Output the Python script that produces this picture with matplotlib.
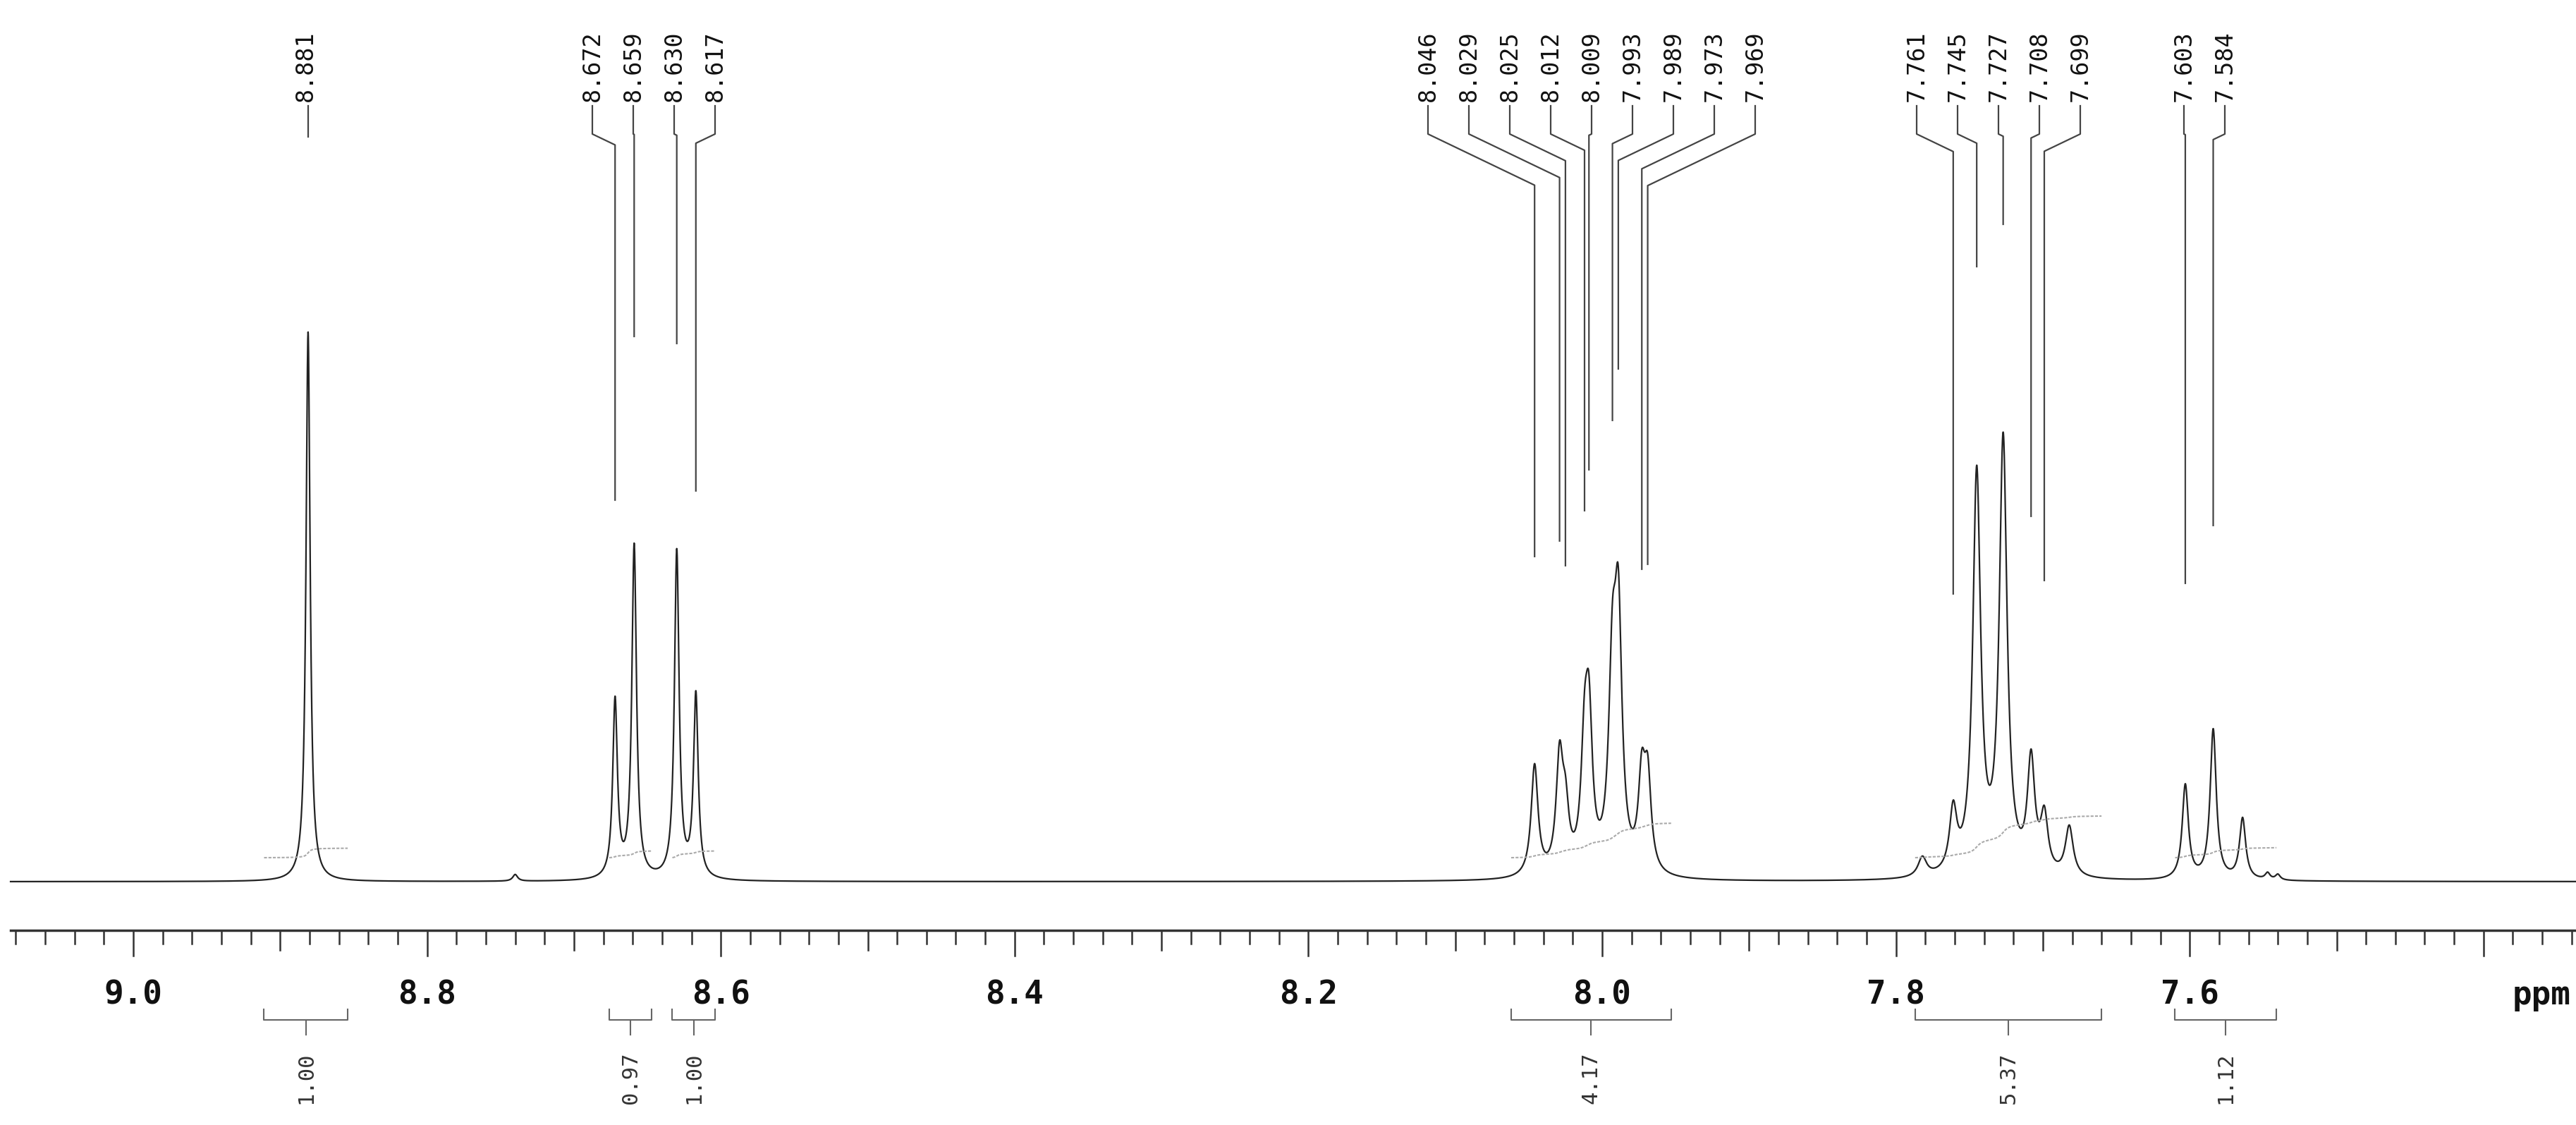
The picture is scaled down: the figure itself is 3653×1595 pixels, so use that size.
import numpy as np
import matplotlib
matplotlib.use("Agg")
import matplotlib.pyplot as plt

# ---- data ----
peak_ppm = [8.881, 8.740, 8.672, 8.659, 8.630, 8.617,
            8.046, 8.029, 8.025, 8.012, 8.009, 7.993, 7.989, 7.973, 7.969,
            7.782, 7.761, 7.745, 7.727, 7.708, 7.699, 7.682,
            7.603, 7.584, 7.564, 7.547, 7.540]
peak_height = [0.99, 0.012, 0.32, 0.60, 0.59, 0.33,
               0.20, 0.20, 0.10, 0.20, 0.25, 0.33, 0.43, 0.16, 0.16,
               0.035, 0.11, 0.72, 0.78, 0.20, 0.10, 0.09,
               0.17, 0.27, 0.11, 0.012, 0.010]
peak_hwhm = [0.0017, 0.002, 0.0019, 0.0019, 0.0019, 0.0019,
             0.0028, 0.0028, 0.0028, 0.0028, 0.0028, 0.003, 0.003, 0.0028, 0.0028,
             0.0035, 0.003, 0.0032, 0.0032, 0.003, 0.003, 0.0032,
             0.0025, 0.0025, 0.0025, 0.002, 0.002]

label_groups = [
    ["8.881"],
    ["8.672", "8.659", "8.630", "8.617"],
    ["8.046", "8.029", "8.025", "8.012", "8.009", "7.993", "7.989", "7.973", "7.969"],
    ["7.761", "7.745", "7.727", "7.708", "7.699"],
    ["7.603", "7.584"],
]
group_first_x = [433, 840, 2025, 2718, 3097]
leader_end_px = [[194], [709, 477, 487, 696],
                 [789, 767, 802, 724, 666, 596, 523, 807, 800],
                 [842, 378, 318, 732, 823], [827, 745]]

integral_start = [8.911, 8.676, 8.633, 8.062, 7.787, 7.610]
integral_end = [8.854, 8.647, 8.604, 7.953, 7.660, 7.541]
integral_value = ["1.00", "0.97", "1.00", "4.17", "5.37", "1.12"]
integral_rise = [0.017, 0.012, 0.012, 0.062, 0.075, 0.018]

tick_labels = ["9.0", "8.8", "8.6", "8.4", "8.2", "8.0", "7.8", "7.6"]

# ---- geometry ----
W, H = 3653, 1595
X0PX, PXPPM = 189.0, 2083.0
BASE, UNIT = 1250.0, 787.0
def py(ypix):
    return (BASE - ypix) / UNIT
def ppm_of_px(xpix):
    return 9.0 - (xpix - X0PX) / PXPPM

fig = plt.figure(figsize=(W / 100, H / 100), dpi=100)
ax = fig.add_axes([0, 0, 1, 1])
ax.set_xlim(ppm_of_px(0), ppm_of_px(W))
ax.set_ylim(py(H), py(0))
ax.axis("off")

x = np.linspace(ppm_of_px(15), ppm_of_px(W), 20000)
y = np.zeros_like(x)
for p, h, w in zip(peak_ppm, peak_height, peak_hwhm):
    y += h * w**2 / ((x - p) ** 2 + w**2)
ax.plot(x, y, color="#222222", lw=1.6)

# integral curves
for s, e, r in zip(integral_start, integral_end, integral_rise):
    m = (x <= s) & (x >= e)
    c = np.cumsum(y[m])
    c = c / c[-1] * r
    ax.plot(x[m], py(1216) + c, color="#aaaaaa", lw=1.5, ls=(0, (2, 1)))

# peak labels & leaders
lab_col = "#444444"
for labs, fx, ends in zip(label_groups, group_first_x, leader_end_px):
    for i, (lab, yend) in enumerate(zip(labs, ends)):
        lx = fx + i * 58
        ax.text(ppm_of_px(lx), py(144), lab, rotation=90, ha="center", va="bottom",
                fontsize=24, family="DejaVu Sans Mono", color="#111111")
        pk = float(lab)
        pkx = X0PX + (9.0 - pk) * PXPPM
        dx = abs(pkx - lx)
        ydiag = 190 + 0.48 * dx
        xs = [ppm_of_px(lx), ppm_of_px(lx), pk, pk]
        ys = [py(150), py(190), py(ydiag), py(yend)]
        if len(labs) == 1:
            xs, ys = [pk, pk], [py(150), py(yend)]
        ax.plot(xs, ys, color=lab_col, lw=1.6)

# axis
ax.plot([ppm_of_px(15), ppm_of_px(W)], [py(1319), py(1319)], color="#333333", lw=2.5)
for k in range(0, 90):
    t = round(9.08 - k * 0.02, 2)
    if t < ppm_of_px(W):
        break
    kk = int(round(t * 100))
    if kk % 20 == 0:
        ln = 36
    elif kk % 10 == 0:
        ln = 28
    else:
        ln = 19
    ax.plot([t, t], [py(1319), py(1319 + ln)], color="#333333", lw=1.8)
for lab in tick_labels:
    ax.text(float(lab), py(1411), lab, ha="center", va="center", fontsize=33,
            fontweight="bold", family="DejaVu Sans Mono", color="#111111")
ax.text(ppm_of_px(3604), py(1411), "ppm", ha="center", va="center", fontsize=33,
        fontweight="bold", family="DejaVu Sans Mono", color="#111111")

# integral brackets
for s, e, v in zip(integral_start, integral_end, integral_value):
    c = (s + e) / 2
    ax.plot([s, s, e, e], [py(1431), py(1446), py(1446), py(1431)], color="#666666", lw=1.5)
    ax.plot([c, c], [py(1446), py(1467)], color="#666666", lw=1.5)
    ax.text(c, py(1528), v, rotation=90, ha="center", va="center", fontsize=22,
            family="DejaVu Sans Mono", color="#333333")

fig.savefig("out.png", dpi=100)
